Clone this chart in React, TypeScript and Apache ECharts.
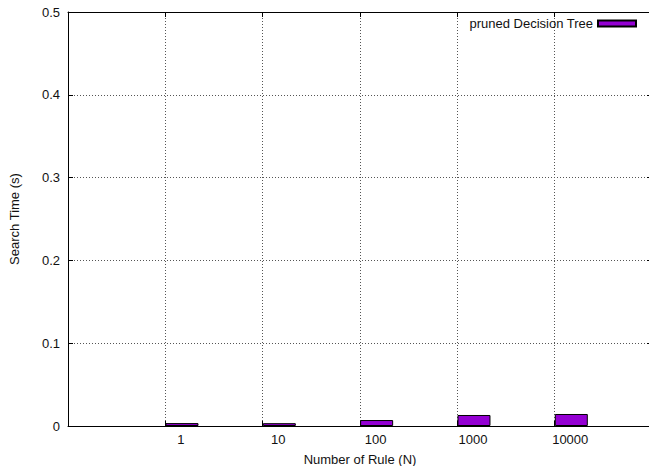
import { useEffect, useRef } from 'react';
import * as echarts from 'echarts';

const categories = ['1', '10', '100', '1000', '10000'];
const searchTime = [0.0035, 0.0034, 0.0072, 0.0133, 0.0145];
const seriesName = 'pruned Decision Tree';

const BAR_OFFSET = 0.171;
const LABEL_OFFSET = 0.16;

export default function App() {
  const ref = useRef<HTMLDivElement>(null);
  useEffect(() => {
    const chart = echarts.init(ref.current!, null, { renderer: 'svg' });
    const fontFamily = '"Liberation Sans", Arial, Helvetica, sans-serif';
    const color = '#111';
    const dotted = { type: [1, 2], color: '#555', width: 1 };
    const axisLine = { show: true, onZero: false, lineStyle: { color: '#000', width: 1 } };
    const axisTick = { show: true, inside: true, length: 5, lineStyle: { color: '#000', width: 1 } };
    const text = { fontSize: 13, color, fontFamily };
    chart.setOption({
      animation: false,
      grid: {
        left: 68,
        top: 12,
        width: 584,
        height: 414,
        containLabel: false,
        outerBoundsMode: 'none',
      },
      legend: {
        right: 12,
        top: 17,
        padding: 0,
        itemWidth: 38,
        itemHeight: 6,
        icon: 'rect',
        align: 'right',
        textStyle: text,
        data: [seriesName],
      },
      xAxis: [
        {
          type: 'value',
          min: -1,
          max: 5,
          interval: 1,
          position: 'bottom',
          name: 'Number of Rule (N)',
          nameLocation: 'middle',
          nameGap: 27,
          nameTextStyle: text,
          axisLine,
          axisTick,
          axisLabel: {
            ...text,
            margin: 7,
            customValues: categories.map((_, i) => i + LABEL_OFFSET),
            formatter: (v: number) => categories[Math.round(v - LABEL_OFFSET)] ?? '',
          },
          splitLine: { show: true, lineStyle: dotted },
        },
        {
          type: 'value',
          min: -1,
          max: 5,
          interval: 1,
          position: 'top',
          axisLine,
          axisTick,
          axisLabel: { show: false },
          splitLine: { show: false },
        },
      ],
      yAxis: [
        {
          type: 'value',
          min: 0,
          max: 0.5,
          interval: 0.1,
          position: 'left',
          name: 'Search Time (s)',
          nameLocation: 'middle',
          nameGap: 47,
          nameRotate: 90,
          nameTextStyle: text,
          axisLine,
          axisTick,
          axisLabel: {
            ...text,
            margin: 8,
            formatter: (v: number) => String(Number(v.toFixed(1))),
          },
          splitLine: { show: true, lineStyle: dotted },
        },
        {
          type: 'value',
          min: 0,
          max: 0.5,
          interval: 0.1,
          position: 'right',
          axisLine,
          axisTick,
          axisLabel: { show: false },
          splitLine: { show: false },
        },
      ],
      series: [
        {
          name: seriesName,
          type: 'bar',
          xAxisIndex: 0,
          yAxisIndex: 0,
          barWidth: 33,
          itemStyle: { color: '#9400D3', borderColor: '#000', borderWidth: 1 },
          data: searchTime.map((v, i) => [i + BAR_OFFSET, v]),
        },
      ],
    });
    return () => chart.dispose();
  }, []);
  return (
    <div
      ref={ref}
      style={{ position: 'fixed', left: 0, top: 0, width: 649, height: 466, background: '#fff' }}
    />
  );
}
